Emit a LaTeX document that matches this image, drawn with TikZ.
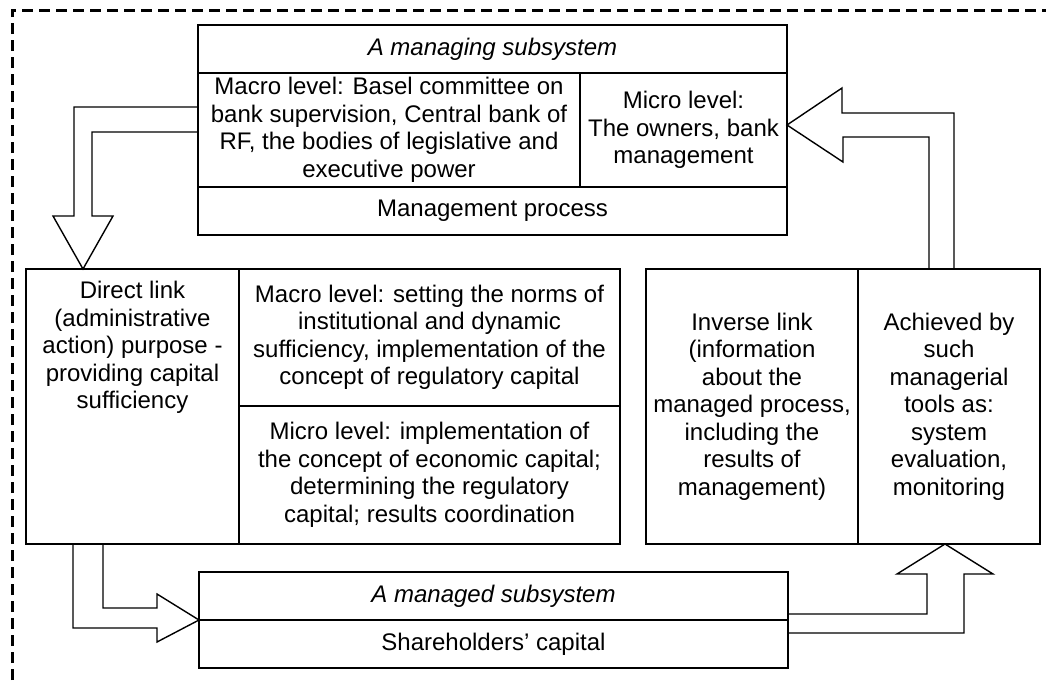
\documentclass[tikz,border=0pt]{standalone}
\usepackage{fontspec}
\setmainfont{Liberation Sans}
\usetikzlibrary{positioning, calc}
\tikzset{cell/.style={draw, line width=1.4pt, inner sep=2pt, outer sep=0pt, align=center, anchor=north west, font=\fontsize{24}{27.5}\selectfont},
  blockarrow/.style={draw, line width=1.4pt, line join=miter},
  frame/.style={line width=3pt, dash pattern=on 11pt off 6pt}}

\begin{document}
\begin{tikzpicture}[x=1pt, y=-1pt]
            \useasboundingbox (0,0) rectangle (1046,680);
            \draw[frame] (12,680) -- (12,10) -- (1046,10);
            % managing subsystem
            \node[cell, minimum width=589, minimum height=48] (managing) at (198,25) {\itshape A managing subsystem};
            \node[cell, minimum width=382, minimum height=114, below right=0pt and 0pt of managing.south west] (macro) {Macro level: Basel committee on\\bank supervision, Central bank of\\RF, the bodies of legislative and\\executive power};
            \node[cell, minimum width=207, minimum height=114, below right=0pt and 0pt of macro.north east] (micro) {Micro level:\\The owners, bank\\management};
            \node[cell, minimum width=589, minimum height=48, below right=0pt and 0pt of macro.south west] (process) {Management process};
            % direct link
            \node[cell, minimum width=213, minimum height=275, inner sep=0pt] (direct) at (26,269) {\parbox[c][250pt][t]{205pt}{\centering Direct link\\(administrative\\action) purpose -\\providing capital\\sufficiency}};
            \node[cell, minimum width=381, minimum height=137, below right=0pt and 0pt of direct.north east] (norms) {Macro level: setting the norms of\\institutional and dynamic\\sufficiency, implementation of the\\concept of regulatory capital};
            \node[cell, minimum width=381, minimum height=138, below right=0pt and 0pt of norms.south west] (economic) {Micro level: implementation of\\the concept of economic capital;\\determining the regulatory\\capital; results coordination};
            % inverse link
            \node[cell, minimum width=212, minimum height=275] (inverse) at (646,269) {Inverse link\\(information\\about the\\managed process,\\including the\\results of\\management)};
            \node[cell, minimum width=182, minimum height=275, below right=0pt and 0pt of inverse.north east] (tools) {Achieved by\\such\\managerial\\tools as:\\system\\evaluation,\\monitoring};
            % managed subsystem
            \node[cell, minimum width=589, minimum height=48] (managed) at (199,572) {\itshape A managed subsystem};
            \node[cell, minimum width=589, minimum height=48, below right=0pt and 0pt of managed.south west] (capital) {Shareholders’ capital};
            % block arrows
            \draw[blockarrow] ($(macro.north west)+(0,34)$) -| ++(-124,109) -- ++(-21,0) -- ($(direct.north west)+(57,0)$) -- ++(30,-53) -- ++(-21,0) |- ($(macro.north west)+(0,59)$);
            \draw[blockarrow] ($(direct.south west)+(47,0)$) |- ++(84,84) -- ++(0,14) -- (managed.south west) -- ++(-42,-26) -- ++(0,14) -| ($(direct.south west)+(77,0)$);
            \draw[blockarrow] ($(managed.south east)+(0,-6)$) -| ++(139,-40) -- ++(-30,0) -- ($(tools.south west)+(87,0)$) -- ++(48,30) -- ++(-29,0) |- ($(managed.south east)+(0,13)$);
            \draw[blockarrow] ($(tools.north west)+(71,0)$) |- ++(-86,-132) -- ++(0,25) -- ($(micro.north east)+(0,52)$) -- ++(55,-37) -- ++(0,25) -| ($(tools.north west)+(96,0)$);
      \end{tikzpicture}
\end{document}
